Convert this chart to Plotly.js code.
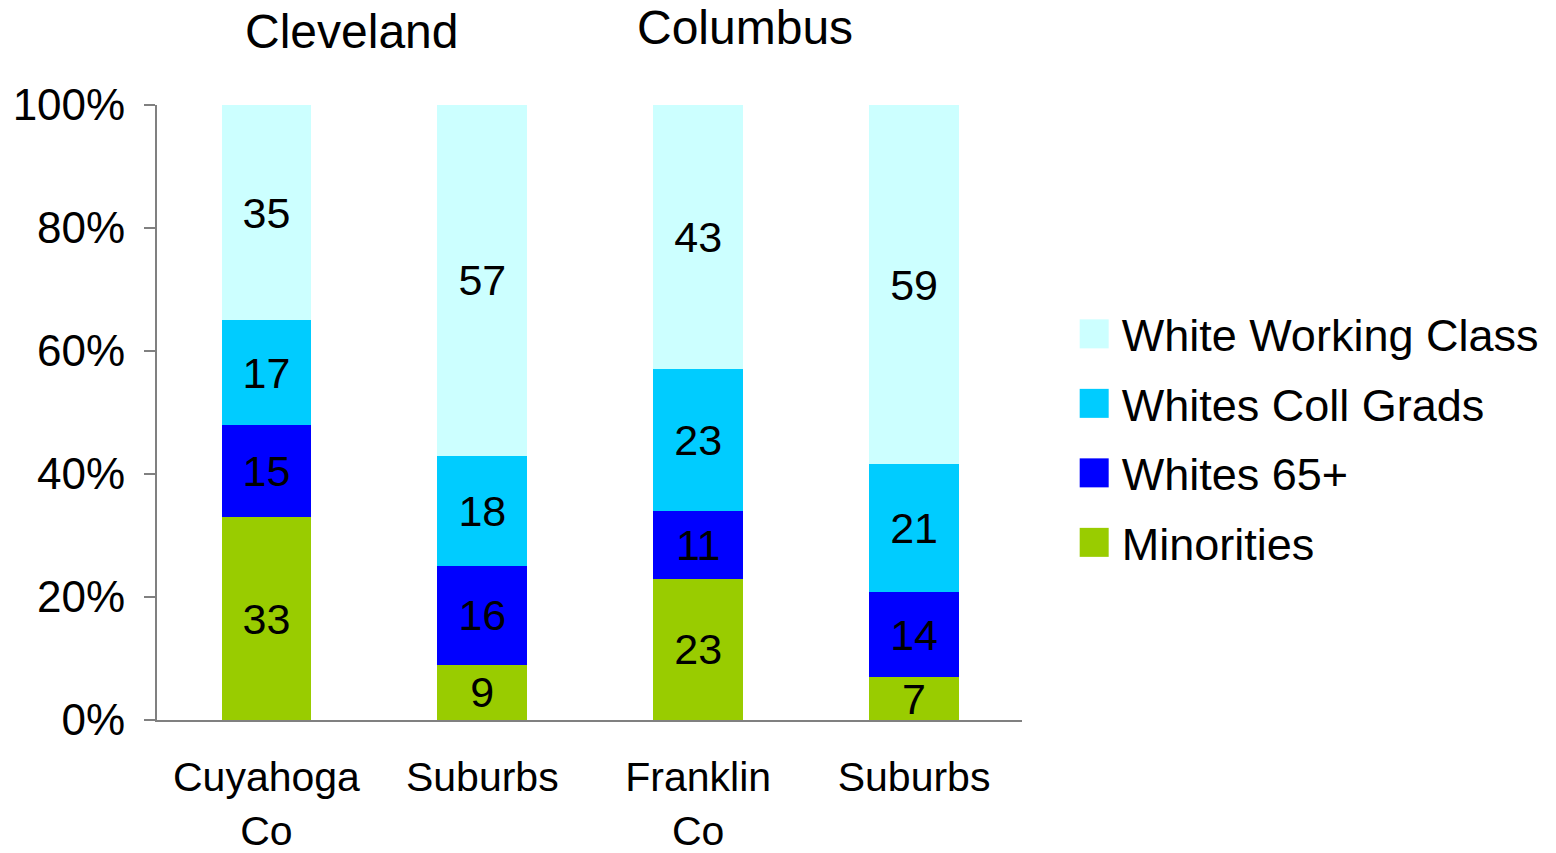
<!DOCTYPE html>
<html>
<head>
<meta charset="utf-8">
<script src="https://cdn.plot.ly/plotly-3.0.1.min.js"></script>
<style>html,body{margin:0;padding:0;background:#fff;}#chart{width:1556px;height:853px;}</style>
</head>
<body>
<div id="chart"></div>
<script>
// Data
var categoryPositions = [0, 1, 2, 3];
var categoryLabels = ["Cuyahoga<br>Co", "Suburbs", "Franklin<br>Co", "Suburbs"];
var minorities = [33, 9, 23, 7];
var whites65 = [15, 16, 11, 14];
var whitesCollGrads = [17, 18, 23, 21];
var whiteWorkingClass = [35, 57, 43, 59];
var seriesNames = ["Minorities", "Whites 65+", "Whites Coll Grads", "White Working Class"];
var seriesColors = ["#99CC00", "#0000FF", "#00CCFF", "#CCFFFF"];
var groupTitles = ["Cleveland", "Columbus"];

var FONT = "Liberation Sans, Arial, sans-serif";
var seriesValues = [minorities, whites65, whitesCollGrads, whiteWorkingClass];

var traces = seriesValues.map(function (vals, i) {
  return {
    type: "bar",
    name: seriesNames[i],
    legendgroup: "g" + i,
    legendrank: 1000 - i,
    x: categoryPositions,
    y: vals,
    text: vals.map(String),
    texttemplate: "%{text}",
    textposition: "inside",
    insidetextanchor: "middle",
    constraintext: "none",
    textangle: 0,
    textfont: {family: FONT, size: 43, color: "#000000"},
    marker: {color: seriesColors[i], line: {width: 0}},
    hoverinfo: "skip"
  };
});

var layout = {
  width: 1556,
  height: 853,
  margin: {l: 157, r: 534, t: 105, b: 133},
  paper_bgcolor: "#ffffff",
  plot_bgcolor: "#ffffff",
  barmode: "stack",
  barnorm: "percent",
  bargap: 0.584,
  font: {family: FONT, size: 43, color: "#000000"},
  showlegend: true,
  legend: {
    x: 1.069, xanchor: "left",
    y: 0.686, yanchor: "top",
    traceorder: "grouped",
    tracegroupgap: 8,
    font: {family: FONT, size: 45, color: "#000000"},
    bgcolor: "rgba(0,0,0,0)",
    itemwidth: 30
  },
  xaxis: {
    range: [-0.507, 3.5],
    tickmode: "array",
    tickvals: categoryPositions,
    ticktext: categoryLabels,
    showgrid: false,
    zeroline: false,
    showline: true,
    linecolor: "#808080",
    linewidth: 2,
    ticks: "",
    ticklabelstandoff: 20,
    tickfont: {family: FONT, size: 41, color: "#000000"},
    fixedrange: true
  },
  yaxis: {
    range: [0, 100],
    tickmode: "linear",
    tick0: 0,
    dtick: 20,
    ticksuffix: "%",
    showgrid: false,
    zeroline: false,
    showline: true,
    linecolor: "#808080",
    linewidth: 2,
    ticks: "outside",
    ticklen: 11,
    tickwidth: 2,
    tickcolor: "#808080",
    ticklabelstandoff: 10,
    tickfont: {family: FONT, size: 44, color: "#000000"},
    fixedrange: true
  },
  annotations: [
    {text: groupTitles[0], xref: "paper", yref: "paper", x: 0.2254, y: 1.119, xanchor: "center", yanchor: "middle", showarrow: false, font: {family: FONT, size: 48, color: "#000000"}},
    {text: groupTitles[1], xref: "paper", yref: "paper", x: 0.680, y: 1.126, xanchor: "center", yanchor: "middle", showarrow: false, font: {family: FONT, size: 48, color: "#000000"}}
  ]
};

Plotly.newPlot("chart", traces, layout, {staticPlot: true, displayModeBar: false}).then(function () {
  document.querySelectorAll("#chart .legend [clip-path]").forEach(function (el) {
    el.removeAttribute("clip-path");
  });
  var paths = document.querySelectorAll("#chart .legend .legendpoints path");
  paths.forEach(function (p) {
    p.removeAttribute("transform");
    p.setAttribute("d", "M27,14.5H-2V-14.5H27Z");
  });
});
</script>
</body>
</html>
